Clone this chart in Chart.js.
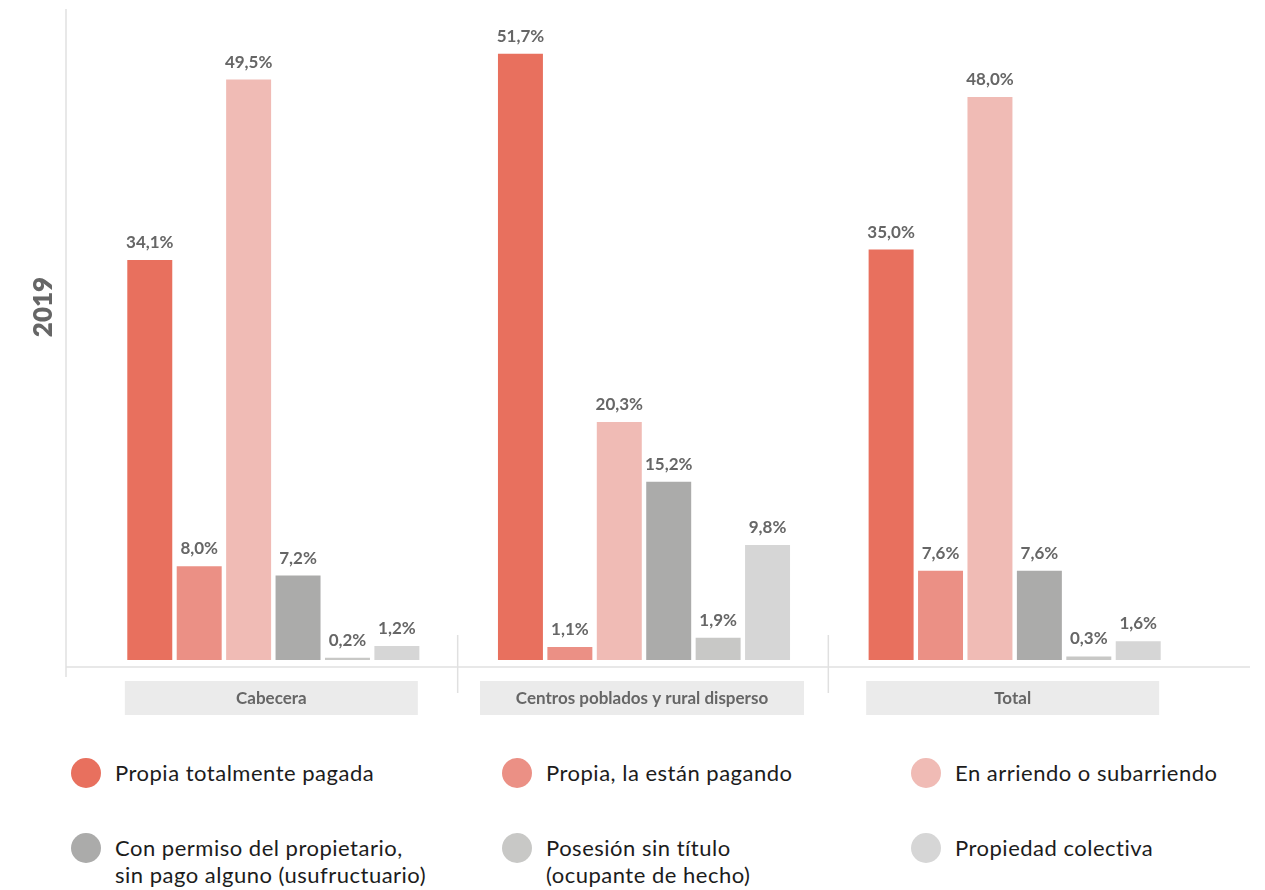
<!DOCTYPE html>
<html lang="es">
<head>
<meta charset="utf-8">
<title>Tenencia de vivienda 2019</title>
<script src="https://cdn.jsdelivr.net/npm/chart.js@4/dist/chart.umd.min.js"></script>
<style>
  html, body { margin: 0; padding: 0; background: #fff; }
  body { width: 1265px; height: 890px; position: relative; overflow: hidden; font-family: Lato, "Noto Sans", sans-serif; }
  .chart-box { position: absolute; left: 0; top: 0; width: 1265px; height: 730px; }
  .legend-item { position: absolute; display: flex; align-items: flex-start; font-size: 22px; line-height: 27px; letter-spacing: 0.5px; color: #1c1c1c; }
  .legend-dot { width: 30px; height: 30px; border-radius: 50%; margin-right: 14px; flex: none; margin-top: -1px; }
</style>
</head>
<body>
<div class="chart-box"><canvas id="chart"></canvas></div>
<div id="legend"></div>

<script>
/* ---------- Datos ---------- */
const CATEGORIAS = ['Cabecera', 'Centros poblados y rural disperso', 'Total'];

const PROPIA_PAGADA   = [34.1, 51.7, 35.0];
const PROPIA_PAGANDO  = [8.0, 1.1, 7.6];
const ARRIENDO        = [49.5, 20.3, 48.0];
const USUFRUCTO       = [7.2, 15.2, 7.6];
const POSESION        = [0.2, 1.9, 0.3];
const COLECTIVA       = [1.2, 9.8, 1.6];

const SERIES = [
  { label: 'Propia totalmente pagada',                              data: PROPIA_PAGADA,  color: '#E8705E' },
  { label: 'Propia, la están pagando',                              data: PROPIA_PAGANDO, color: '#EB9085' },
  { label: 'En arriendo o subarriendo',                             data: ARRIENDO,       color: '#F0BBB5' },
  { label: 'Con permiso del propietario,\nsin pago alguno (usufructuario)', data: USUFRUCTO, color: '#ABABAA' },
  { label: 'Posesión sin título\n(ocupante de hecho)',              data: POSESION,       color: '#C8C8C6' },
  { label: 'Propiedad colectiva',                                   data: COLECTIVA,      color: '#D6D6D6' },
];

const TITULO_EJE = '2019';
const FONT = 'Lato, "Noto Sans", sans-serif';

const fmtPct = v => v.toFixed(1).replace('.', ',') + '%';

/* ---------- Plugin: líneas, cajas de categoría y etiquetas ---------- */
const BOX_W = [293, 324, 293];   // ancho de las cajas grises bajo cada grupo

const decoPlugin = {
  id: 'deco',
  beforeDatasetsDraw(chart) {
    const { ctx, chartArea } = chart;
    const x = chart.scales.x;
    ctx.save();
    ctx.strokeStyle = '#E0E0E0';
    ctx.lineWidth = 1.5;
    // eje vertical izquierdo
    ctx.beginPath();
    ctx.moveTo(66, 9);
    ctx.lineTo(66, chartArea.bottom + 17);
    ctx.stroke();
    // línea base
    ctx.beginPath();
    ctx.moveTo(66, chartArea.bottom + 7);
    ctx.lineTo(1250, chartArea.bottom + 7);
    ctx.stroke();
    // separadores
    for (let i = 0; i < CATEGORIAS.length - 1; i++) {
      const sx = (x.getPixelForValue(i) + x.getPixelForValue(i + 1)) / 2 - 1;
      ctx.beginPath();
      ctx.moveTo(sx, chartArea.bottom - 25);
      ctx.lineTo(sx, chartArea.bottom + 33);
      ctx.stroke();
    }
    // cajas de categoría
    ctx.font = 'bold 17px ' + FONT;
    ctx.textAlign = 'center';
    ctx.textBaseline = 'middle';
    CATEGORIAS.forEach((c, i) => {
      const cx = x.getPixelForValue(i) - 2;
      const w = BOX_W[i];
      ctx.fillStyle = '#EBEBEB';
      ctx.fillRect(cx - w / 2, chartArea.bottom + 21, w, 34);
      ctx.fillStyle = '#666666';
      ctx.fillText(c, cx, chartArea.bottom + 39);
    });
    // título eje
    ctx.translate(44, 307);
    ctx.rotate(-Math.PI / 2);
    ctx.font = '800 26px ' + FONT;
    ctx.fillStyle = '#666666';
    ctx.fillText(TITULO_EJE, 0, 0);
    ctx.restore();
  },
  afterDatasetsDraw(chart) {
    const { ctx } = chart;
    ctx.save();
    ctx.font = 'bold 17px ' + FONT;
    ctx.fillStyle = '#666666';
    ctx.textAlign = 'center';
    ctx.textBaseline = 'alphabetic';
    chart.data.datasets.forEach((ds, di) => {
      chart.getDatasetMeta(di).data.forEach((el, i) => {
        ctx.fillText(fmtPct(ds.data[i]), el.x, el.y - 12);
      });
    });
    ctx.restore();
  },
};

/* ---------- Gráfico ---------- */
new Chart(document.getElementById('chart'), {
  type: 'bar',
  data: {
    labels: CATEGORIAS,
    datasets: SERIES.map(s => ({
      label: s.label,
      data: s.data,
      backgroundColor: s.color,
      borderWidth: 0,
      categoryPercentage: 0.8,
      barPercentage: 0.91,
    })),
  },
  options: {
    responsive: true,
    maintainAspectRatio: false,
    animation: false,
    layout: { padding: { left: 88, right: 65, top: 15, bottom: 70 } },
    plugins: { legend: { display: false }, tooltip: { enabled: false } },
    scales: {
      x: { display: false },
      y: { display: false, min: 0, max: 55 },
    },
  },
  plugins: [decoPlugin],
});

/* ---------- Leyenda ---------- */
(function buildLegend() {
  const pos = [[71, 759], [502, 759], [911, 759], [71, 834], [502, 834], [911, 834]];
  const html = SERIES.map((s, i) =>
    `<div class="legend-item" style="left:${pos[i][0]}px;top:${pos[i][1]}px">
       <span class="legend-dot" style="background:${s.color}"></span>
       <span>${s.label.replace('\n', '<br>')}</span>
     </div>`
  ).join('');
  document.getElementById('legend').innerHTML = html;
})();
</script>
</body>
</html>
